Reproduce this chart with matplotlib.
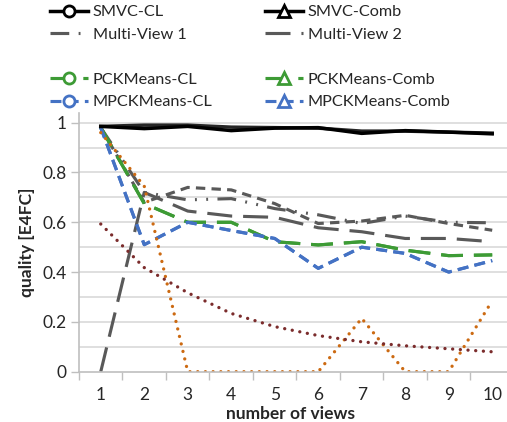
import matplotlib
matplotlib.use("Agg")
import matplotlib.pyplot as plt
from matplotlib.lines import Line2D
from matplotlib.ticker import FixedLocator

plt.rcParams['font.family'] = ['Lato', 'DejaVu Sans']

views = [1, 2, 3, 4, 5, 6, 7, 8, 9, 10]
view_labels = ['1', '2', '3', '4', '5', '6', '7', '8', '9', '10']

smvc_cl = [0.985, 0.976, 0.985, 0.968, 0.978, 0.980, 0.957, 0.968, 0.962, 0.955]
smvc_comb = [0.985, 0.990, 0.990, 0.982, 0.980, 0.978, 0.966, 0.966, 0.962, 0.958]
multi_view_1 = [0.98, 0.72, 0.69, 0.695, 0.655, 0.63, 0.595, 0.625, 0.60, 0.598]
multi_view_2 = [0.0, 0.72, 0.645, 0.625, 0.62, 0.578, 0.562, 0.535, 0.535, 0.522]
multi_view_3 = [0.98, 0.68, 0.74, 0.73, 0.675, 0.595, 0.605, 0.628, 0.595, 0.568]
pckmeans_cl = [0.98, 0.675, 0.60, 0.60, 0.522, 0.509, 0.522, 0.488, 0.466, 0.469]
pckmeans_comb = [0.98, 0.675, 0.60, 0.60, 0.522, 0.509, 0.522, 0.488, 0.466, 0.469]
mpckmeans_cl = [0.98, 0.51, 0.60, 0.567, 0.535, 0.415, 0.50, 0.475, 0.40, 0.446]
mpckmeans_comb = [0.98, 0.51, 0.60, 0.567, 0.535, 0.415, 0.50, 0.475, 0.40, 0.446]
orange_series = [0.96, 0.745, 0.0, 0.0, 0.0, 0.0, 0.214, 0.0, 0.0, 0.285]
brown_series = [0.593, 0.418, 0.317, 0.234, 0.181, 0.145, 0.12, 0.104, 0.092, 0.08]

GRAY = '#595959'
GREEN = '#3D9B35'
BLUE = '#4472C4'
ORANGE = '#CC6A12'
BROWN = '#7B2C2C'
TXT = '#262626'

fig = plt.figure(figsize=(5.07, 4.22), dpi=100)
ax = fig.add_axes([79/507, 50.3/422, 428/507, (371.7-112.7)/422])

lw = 2.25
ax.plot(views, multi_view_3, color=GRAY, lw=lw, dashes=(3, 2))
ax.plot(views, multi_view_1, color=GRAY, lw=lw, dashes=(6, 3, 0.6, 3, 0.6, 3))
ax.plot(views, multi_view_2, color=GRAY, lw=lw, dashes=(8, 3.5))
ax.plot(views, pckmeans_comb, color=GREEN, lw=lw, dashes=(7, 3.5))
ax.plot(views, pckmeans_cl, color=GREEN, lw=lw, dashes=(7, 3.5))
ax.plot(views, mpckmeans_comb, color=BLUE, lw=lw, dashes=(3.5, 2))
ax.plot(views, mpckmeans_cl, color=BLUE, lw=lw, dashes=(3.5, 2))
ax.plot(views, orange_series, color=ORANGE, lw=2.4, dashes=(0.01, 2.3),
        dash_capstyle='round')
ax.plot(views, brown_series, color=BROWN, lw=2.4, dashes=(0.01, 2.3),
        dash_capstyle='round')
ax.plot(views, smvc_comb, color='black', lw=2.5, alpha=0.85)
ax.plot(views, smvc_cl, color='black', lw=2.5)

ax.set_xlim(0.5, 10.34)
ax.set_ylim(0, 1.04)
ax.yaxis.set_major_locator(FixedLocator([0, 0.2, 0.4, 0.6, 0.8, 1.0]))
ax.set_yticklabels(['0', '0.2', '0.4', '0.6', '0.8', '1'])
for v in [0.1, 0.2, 0.3, 0.4, 0.5, 0.6, 0.7, 0.8, 0.9, 1.0]:
    ax.axhline(v, color='#D9D9D9', lw=1.2, zorder=0)
ax.set_xticks(views)
ax.set_xticklabels(view_labels)
ax.xaxis.set_minor_locator(FixedLocator([x + 0.5 for x in range(0, 11)]))
ax.tick_params(axis='x', which='major', length=0, pad=11, labelsize=12.5, colors=TXT)
ax.tick_params(axis='x', which='minor', length=6, width=1, color='#BFBFBF', direction='out')
ax.tick_params(axis='y', which='major', length=6, width=1, color='#BFBFBF', direction='out',
               pad=3, labelsize=12.5, labelcolor=TXT)
for s in ['top', 'right']:
    ax.spines[s].set_visible(False)
for s in ['left', 'bottom']:
    ax.spines[s].set_color('#BFBFBF')
    ax.spines[s].set_linewidth(1.2)

fig.text(290/507, 1 - 414/422, 'number of views', ha='center', va='center',
         fontsize=12.5, fontweight='bold', color=TXT)
fig.text(27/507, 1 - 242/422, 'quality [E4FC]', ha='center', va='center',
         rotation=90, fontsize=12.5, fontweight='bold', color=TXT)

def h(color, dashes=None, marker=None, lwid=lw):
    kw = dict(color=color, lw=lwid, marker=marker, markersize=8,
              markerfacecolor='white', markeredgecolor=color, markeredgewidth=2)
    if dashes is not None:
        kw['dashes'] = dashes
    return Line2D([], [], **kw)

blank = Line2D([], [], color='none')
col1 = [h('black', None, 'o', 2.5), h(GRAY, (6, 3, 0.6, 3, 0.6, 3)), blank,
        h(GREEN, (7, 3.5), 'o'), h(BLUE, (3.5, 2), 'o')]
lab1 = ['SMVC-CL', 'Multi-View 1', ' ', 'PCKMeans-CL', 'MPCKMeans-CL']
col2 = [h('black', None, '^', 2.5), h(GRAY, (8, 3.5)), blank,
        h(GREEN, (7, 3.5), '^'), h(BLUE, (3.5, 2), '^')]
lab2 = ['SMVC-Comb', 'Multi-View 2', ' ', 'PCKMeans-Comb', 'MPCKMeans-Comb']

for handles, labels, x0 in [(col1, lab1, 50), (col2, lab2, 265)]:
    leg = fig.legend(handles, labels, loc='upper left',
                     bbox_to_anchor=(x0/507, 1 - 5/422), frameon=False,
                     fontsize=11.7, handlelength=2.34, handletextpad=0.3,
                     labelspacing=0.5, numpoints=1, borderpad=0, borderaxespad=0)
    for t in leg.get_texts():
        t.set_color(TXT)

fig.savefig('out.png', dpi=100)
